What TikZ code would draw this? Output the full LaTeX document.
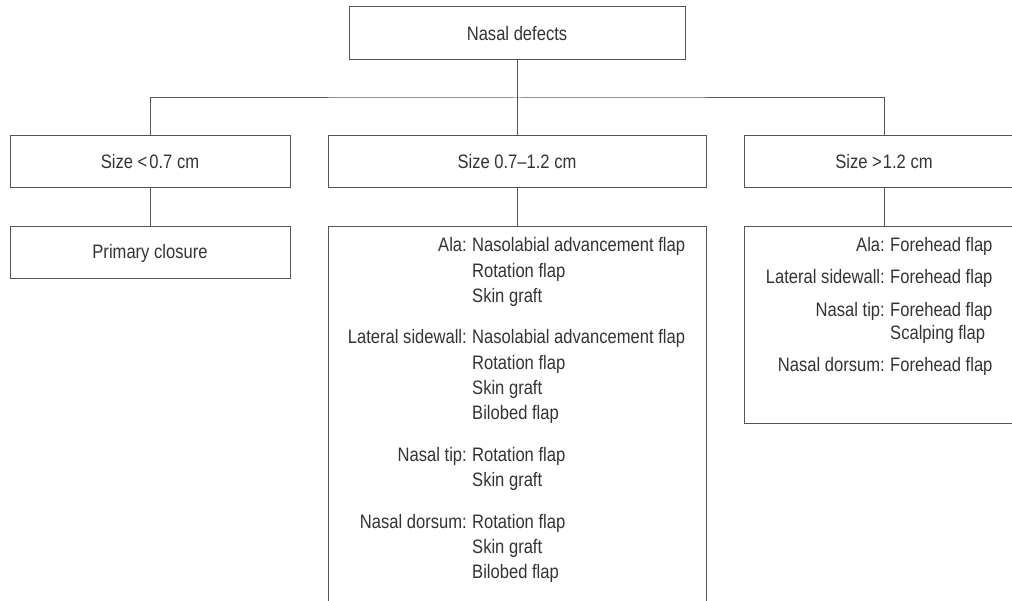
\documentclass[tikz,border=0pt]{standalone}
\usepackage{fontspec}
\setmainfont[FakeStretch=0.85]{Liberation Sans}
\definecolor{linec}{HTML}{555555}
\definecolor{textc}{HTML}{333333}
\begin{document}
\begin{tikzpicture}[x=1pt,y=-1pt,
  box/.style={draw=linec,line width=1pt,inner sep=0pt,text=textc,font=\fontsize{19.5}{24}\selectfont},
  conn/.style={draw=linec,line width=1pt},
  lab/.style={anchor=base east,inner sep=0pt,text=textc,font=\fontsize{19.5}{24}\selectfont},
  val/.style={anchor=base west,inner sep=0pt,text=textc,font=\fontsize{19.5}{24}\selectfont}]
\useasboundingbox (0,0) rectangle (1012,601);
\node[box,minimum width=336pt,minimum height=53pt] (root) at (517,33.5) {Nasal defects};
\node[box,minimum width=280pt,minimum height=52pt] (s1) at (150,162) {Size {<}\kern2pt0.7 cm};
\node[box,minimum width=378pt,minimum height=52pt] (s2) at (517,162) {Size 0.7--1.2 cm};
\node[box,minimum width=280pt,minimum height=52pt] (s3) at (884,162) {Size {>}\kern1pt1.2 cm};
\node[box,minimum width=280pt,minimum height=52pt] (pc) at (150,253) {Primary closure};
\node[box,minimum width=378pt,minimum height=413pt] (m2) at (517,433.5) {};
\node[box,minimum width=280pt,minimum height=196pt] (m3) at (884,325) {};
\coordinate (busy) at (517,98);
\draw[conn] (root.south) -- (s2.north);
\draw[conn] (s1.north) |- (busy) -| (s3.north);
\draw[conn] (s1.south) -- (pc.north);
\draw[conn] (s2.south) -- (m2.north);
\draw[conn] (s3.south) -- (m3.north);
% middle box texts
\node[lab] (ma) at (467,252) {Ala:};
\node[val] (ma1) at (472,252) {Nasolabial advancement flap};
\node[val] (ma2) at (472,277.3) {Rotation flap};
\node[val] (ma3) at (472,302.6) {Skin graft};
\node[lab] (ml) at (467,344) {Lateral sidewall:};
\node[val] (ml1) at (472,344) {Nasolabial advancement flap};
\node[val] (ml2) at (472,369.3) {Rotation flap};
\node[val] (ml3) at (472,394.6) {Skin graft};
\node[val] (ml4) at (472,420) {Bilobed flap};
\node[lab] (mt) at (467,461.5) {Nasal tip:};
\node[val] (mt1) at (472,461.5) {Rotation flap};
\node[val] (mt2) at (472,486.8) {Skin graft};
\node[lab] (md) at (467,528.3) {Nasal dorsum:};
\node[val] (md1) at (472,528.3) {Rotation flap};
\node[val] (md2) at (472,553.6) {Skin graft};
\node[val] (md3) at (472,578.9) {Bilobed flap};
% right box texts
\node[lab] (ra) at (885,251.7) {Ala:};
\node[val] (ra1) at (890,251.7) {Forehead flap};
\node[lab] (rl) at (885,284) {Lateral sidewall:};
\node[val] (rl1) at (890,284) {Forehead flap};
\node[lab] (rt) at (885,316.3) {Nasal tip:};
\node[val] (rt1) at (890,316.3) {Forehead flap};
\node[val] (rt2) at (890,340) {Scalping flap};
\node[lab] (rd) at (885,372) {Nasal dorsum:};
\node[val] (rd1) at (890,372) {Forehead flap};
\end{tikzpicture}
\end{document}
